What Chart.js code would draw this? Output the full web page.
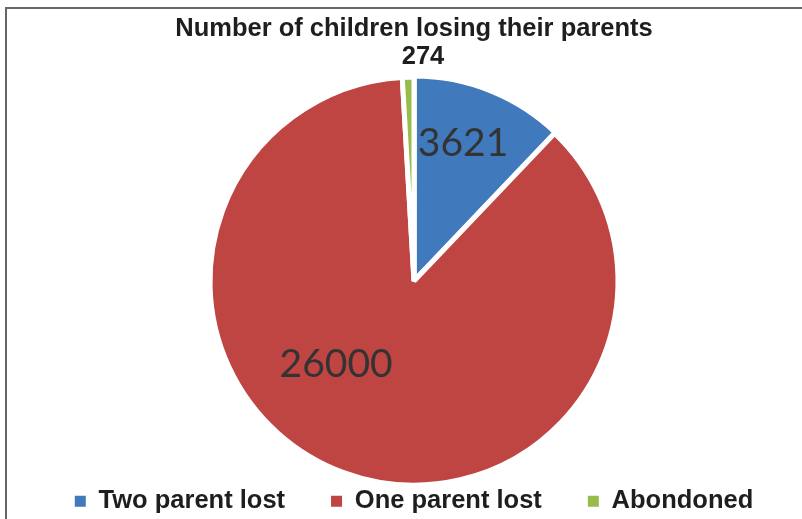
<!DOCTYPE html>
<html>
<head>
<meta charset="utf-8">
<title>Number of children losing their parents</title>
<script src="https://cdn.jsdelivr.net/npm/chart.js@4"></script>
<style>
  html, body { margin: 0; padding: 0; background: #fff; overflow: hidden; }
  #frame {
    position: absolute; left: 5px; top: 7px; width: 900px; height: 600px;
    border-top: 2px solid #666; border-left: 2px solid #666;
  }
  #wrap { position: absolute; left: 0; top: 0; width: 802px; height: 519px; }
</style>
</head>
<body>
<div id="frame"></div>
<div id="wrap"><canvas id="pieChart"></canvas></div>
<script>
const categories = ["Two parent lost", "One parent lost", "Abondoned"];
const childCounts = [3621, 26000, 274];
const sliceColors = ["#4079BC", "#BF4542", "#97BC4C"];

const boldFont = "'Liberation Sans', Arial, sans-serif";

// draws the value of each slice, placed from the arc's own geometry
const sliceLabels = {
  id: "sliceLabels",
  afterDatasetsDraw(chart, args, opts) {
    const ctx = chart.ctx;
    const meta = chart.getDatasetMeta(0);
    meta.data.forEach((arc, i) => {
      const p = arc.getProps(["x", "y", "startAngle", "endAngle", "outerRadius"], true);
      const spot = opts.spots[i];
      const ang = (p.startAngle + p.endAngle) / 2 + spot.shift * Math.PI / 180;
      const r = p.outerRadius * spot.r;
      ctx.save();
      ctx.font = spot.font;
      ctx.fillStyle = spot.color;
      ctx.textAlign = "center";
      ctx.textBaseline = "middle";
      ctx.fillText(String(chart.data.datasets[0].data[i]), p.x + Math.cos(ang) * r, p.y + Math.sin(ang) * r);
      ctx.restore();
    });
  }
};

new Chart(document.getElementById("pieChart"), {
  type: "pie",
  data: {
    labels: categories,
    datasets: [{
      data: childCounts,
      backgroundColor: sliceColors,
      borderColor: "#ffffff",
      borderWidth: 5,
      offset: [3, 0, 0],
      clip: false
    }]
  },
  plugins: [sliceLabels],
  options: {
    responsive: true,
    maintainAspectRatio: false,
    animation: false,
    events: [],
    radius: 204,
    layout: { padding: { top: 7, left: 26, right: 0, bottom: -5 } },
    plugins: {
      tooltip: { enabled: false },
      title: {
        display: true,
        text: "Number of children losing their parents",
        color: "#1e1e1e",
        font: { family: boldFont, size: 25.5, weight: "bold" },
        padding: { top: 7, bottom: 75 }
      },
      legend: {
        position: "bottom",
        labels: {
          boxWidth: 11,
          boxHeight: 11,
          padding: 46,
          color: "#1e1e1e",
          font: { family: boldFont, size: 25.5, weight: "bold" },
          generateLabels(chart) {
            const items = Chart.overrides.pie.plugins.legend.labels.generateLabels(chart);
            items.forEach(it => { it.lineWidth = 0; it.strokeStyle = "rgba(0,0,0,0)"; });
            return items;
          }
        }
      },
      sliceLabels: {
        spots: [
          { r: 0.718, shift: -2.25, font: "39px Lato, 'Open Sans', sans-serif", color: "#333333" },
          { r: 0.558, shift: 23, font: "39px Lato, 'Open Sans', sans-serif", color: "#333333" },
          { r: 1.099, shift: 3.95, font: "bold 25.5px " + boldFont, color: "#1e1e1e" }
        ]
      }
    }
  }
});
</script>
</body>
</html>
